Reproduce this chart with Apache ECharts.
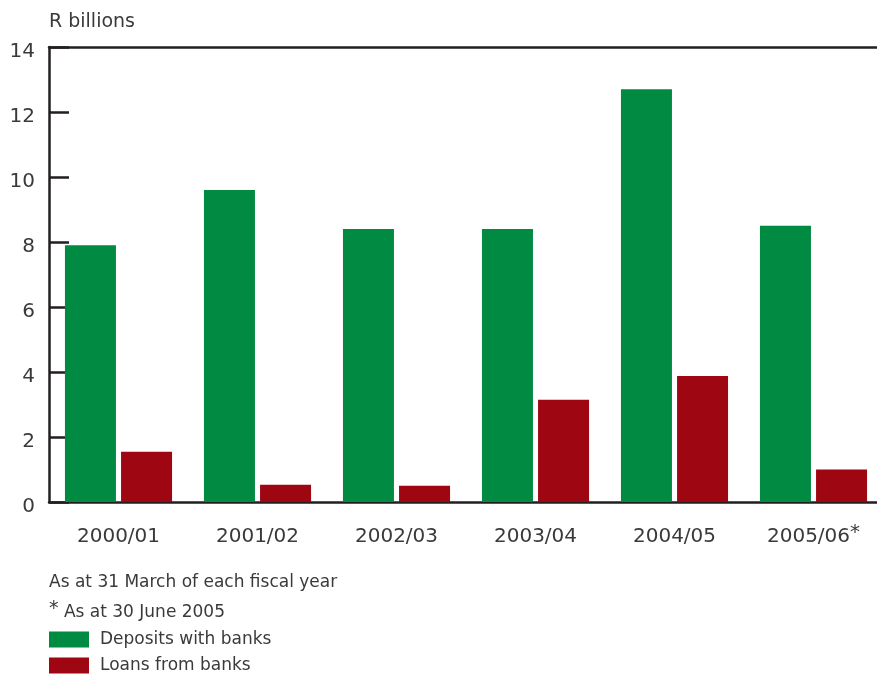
<!DOCTYPE html>
<html>
<head>
<meta charset="utf-8">
<script src="https://cdn.jsdelivr.net/npm/echarts@6/dist/echarts.min.js"></script>
<style>
  html, body { margin: 0; padding: 0; background: #fff; }
  #chart { width: 877px; height: 675px; }
</style>
</head>
<body>
<div id="chart"></div>
<script>
// fiscal years and values (R billions)
var years = ['2000/01', '2001/02', '2002/03', '2003/04', '2004/05', '2005/06']
var deposits = [7.9, 9.6, 8.4, 8.4, 12.7, 8.5]
var loans = [1.55, 0.53, 0.5, 3.15, 3.88, 1.0]
var yTicks = [0, 2, 4, 6, 8, 10, 12, 14]

var txt = '#3a3a3a'
var axisCol = '#231f20'
var font = 'DejaVu Sans'

var chart = echarts.init(document.getElementById('chart'))
var option = {
  backgroundColor: '#fff',
  animation: false,
  textStyle: { fontFamily: font, color: txt },
  title: [{
    text: 'R billions',
    left: 44,
    top: 8,
    textStyle: { fontFamily: font, fontSize: 19, fontWeight: 'normal', color: txt }
  }, {
    text: 'As at 31 March of each fiscal year',
    left: 44,
    top: 569,
    textStyle: { fontFamily: font, fontSize: 17, fontWeight: 'normal', color: txt }
  }, {
    text: '{s|*} As at 30 June 2005',
    left: 44,
    top: 595,
    textStyle: {
      fontFamily: font, fontSize: 17, fontWeight: 'normal', color: txt,
      rich: { s: { fontFamily: font, fontSize: 19, color: txt, padding: [0, 0, 7, 0] } }
    }
  }],
  legend: {
    orient: 'vertical',
    left: 49,
    top: 631,
    padding: 0,
    itemWidth: 40,
    itemHeight: 16,
    itemGap: 9,
    icon: 'rect',
    textStyle: { fontFamily: font, fontSize: 17, color: txt, padding: [0, 0, 0, 6] },
    data: ['Deposits with banks', 'Loans from banks']
  },
  grid: {
    left: 49,
    top: 47,
    width: 834,
    height: 455,
    outerBoundsMode: 'none'
  },
  xAxis: [{
    type: 'category',
    data: years,
    axisLine: { lineStyle: { color: axisCol, width: 2.5 } },
    axisTick: { inside: true, length: 10, interval: 0, alignWithLabel: false, lineStyle: { color: axisCol, width: 2 } },
    axisLabel: {
      interval: 0,
      margin: 21,
      formatter: function (v) {
        return '{a|' + v + '}' + (v === '2005/06' ? '{s|*}' : '')
      },
      rich: {
        a: { fontFamily: font, fontSize: 20, color: txt, padding: [4, 0, 0, 0] },
        s: { fontFamily: font, fontSize: 20, color: txt, padding: [0, 0, 4, 0] }
      }
    }
  }, {
    type: 'category',
    position: 'top',
    data: years,
    axisLine: { lineStyle: { color: axisCol, width: 2.5 } },
    axisTick: { show: false },
    axisLabel: { show: false }
  }],
  yAxis: {
    type: 'value',
    min: yTicks[0],
    max: yTicks[yTicks.length - 1],
    interval: 2,
    axisLine: { show: true, lineStyle: { color: axisCol, width: 2.5 } },
    axisTick: { show: true, inside: true, length: 20, lineStyle: { color: axisCol, width: 2.5 } },
    splitLine: { show: false },
    axisLabel: {
      margin: 14,
      formatter: function (v) { return '{a|' + v + '}' },
      rich: { a: { fontFamily: font, fontSize: 20, color: txt, padding: [9, 0, 0, 0] } }
    }
  },
  series: [{
    name: 'Deposits with banks',
    type: 'bar',
    barWidth: 51,
    barGap: '10%',
    itemStyle: { color: '#008a42' },
    data: deposits
  }, {
    name: 'Loans from banks',
    type: 'bar',
    barWidth: 51,
    barGap: '10%',
    itemStyle: { color: '#9e0712' },
    data: loans
  }]
}
chart.setOption(option)
</script>
</body>
</html>
